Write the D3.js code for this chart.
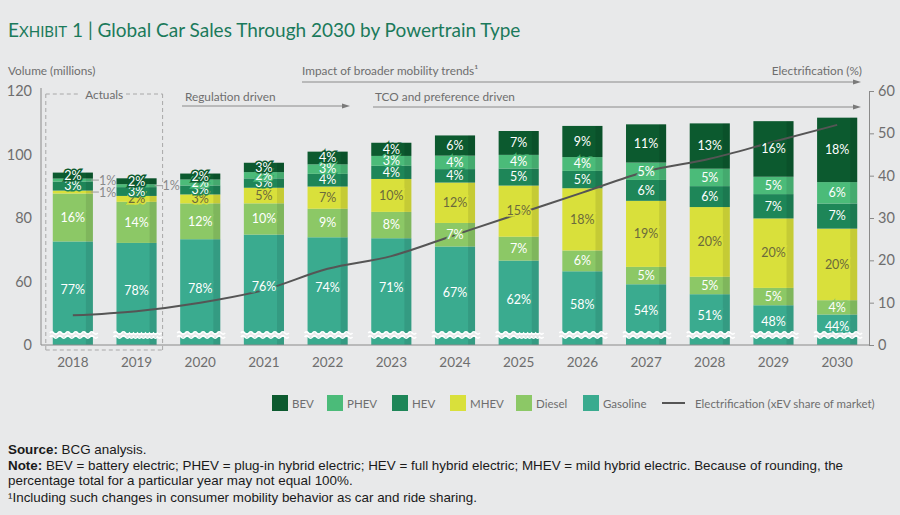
<!DOCTYPE html>
<html><head><meta charset="utf-8">
<script src="https://cdn.jsdelivr.net/npm/d3@7"></script>
<style>
html,body{margin:0;padding:0;background:#e8e9ea;}
svg{display:block;font-family:Lato,"Open Sans",sans-serif;}
</style></head><body>
<svg id="c" width="900" height="515"></svg>
<script>
const years = ["2018","2019","2020","2021","2022","2023","2024","2025","2026","2027","2028","2029","2030"];
const totals = [94.3, 92.5, 94, 97.4, 100.9, 103.7, 106, 107.4, 109, 109.5, 109.8, 110.5, 111.6];
const series = ["Gasoline","Diesel","MHEV","HEV","PHEV","BEV"];
const gasoline = [77,78,78,76,74,71,67,62,58,54,51,48,44];
const diesel   = [16,14,12,10,9,8,7,7,6,5,5,5,4];
const mhev     = [1,2,3,5,7,10,12,15,18,19,20,20,20];
const hev      = [3,3,3,3,4,4,4,5,5,6,6,7,7];
const phev     = [1,1,2,2,3,3,4,4,4,5,5,5,6];
const bev      = [2,2,2,3,4,4,6,7,9,11,13,16,18];
const electrification = [7,8,10,13,18,21,26,31,36,41,44,48,52];
const leftTicks = [0,60,80,100,120];
const rightTicks = [0,10,20,30,40,50,60];
const colors = {BEV:"#0c5a2f",PHEV:"#4bbb79",HEV:"#1e8658",MHEV:"#d9e03b",Diesel:"#8cc866",Gasoline:"#3aab8f"};
const legendOrder = ["BEV","PHEV","HEV","MHEV","Diesel","Gasoline"];
const pctBy = {Gasoline:gasoline,Diesel:diesel,MHEV:mhev,HEV:hev,PHEV:phev,BEV:bev};

const svg = d3.select("#c");
const bg = "#e8e9ea";
const gray = "#6e6e6e";
const FONT = "Lato, 'Open Sans', sans-serif";

// Title
const title = svg.append("text").attr("x",8).attr("y",37).attr("fill","#1b7a5b").attr("font-size",19);
title.append("tspan").text("E");
title.append("tspan").attr("font-size",15).text("XHIBIT");
title.append("tspan").text(" 1 | Global Car Sales Through 2030 by Powertrain Type");

const x = d3.scaleBand().domain(years).range([41,869]).paddingInner(0.37).paddingOuter(0.185);
const y = d3.scaleLinear().domain([40,120]).range([345,91]).clamp(true);
const yR = d3.scaleLinear().domain([0,60]).range([345,91]);

// Annotations
const fs = 11.8;
svg.append("text").attr("x",8).attr("y",75).attr("font-size",fs).attr("fill",gray).text("Volume (millions)");
svg.append("text").attr("x",862).attr("y",75).attr("text-anchor","end").attr("font-size",fs).attr("fill",gray).text("Electrification (%)");
svg.append("text").attr("x",302).attr("y",75).attr("font-size",fs).attr("fill",gray).text("Impact of broader mobility trends¹");
svg.append("text").attr("x",185).attr("y",101).attr("font-size",fs).attr("fill",gray).text("Regulation driven");
svg.append("text").attr("x",375).attr("y",101).attr("font-size",fs).attr("fill",gray).text("TCO and preference driven");
function arrow(x1,x2,yy){
  svg.append("line").attr("x1",x1).attr("x2",x2-5).attr("y1",yy).attr("y2",yy).attr("stroke","#8a8a8a").attr("stroke-width",1);
  svg.append("path").attr("d",`M${x2},${yy} L${x2-8},${yy-2.5} L${x2-8},${yy+2.5} Z`).attr("fill","#7a7a7a");
}
arrow(302,861,82);
arrow(182,350,106);
arrow(373,861,107);

// Actuals box
const bx0 = x("2018") - 7, bx1 = x("2019") + x.bandwidth() + 6;
const by0 = 94, by1 = 350;
const dash = {stroke:"#a8a8a8","stroke-dasharray":"4,3","stroke-width":1,fill:"none"};
function dl(x1,y1,x2,y2){const l=svg.append("line").attr("x1",x1).attr("y1",y1).attr("x2",x2).attr("y2",y2);Object.entries(dash).forEach(([k,v])=>l.attr(k,v));}
dl(bx0,by0,78,by0); dl(126,by0,bx1,by0); dl(bx0,by0,bx0,by1); dl(bx1,by0,bx1,by1); dl(bx0,by1,bx1,by1);
svg.append("text").attr("x",(bx0+bx1)/2).attr("y",99).attr("text-anchor","middle").attr("font-size",fs).attr("fill",gray).text("Actuals");

// Bars
const gBars = svg.append("g");
const segs = [];
years.forEach((yr,i)=>{
  const sum = series.reduce((s,k)=>s+pctBy[k][i],0);
  let cum = 0;
  series.forEach(k=>{
    const v = pctBy[k][i]/sum*totals[i];
    segs.push({year:yr,key:k,pct:pctBy[k][i],y0:cum,y1:cum+v,i});
    cum += v;
  });
});
const bw = x.bandwidth();
gBars.selectAll("rect.seg").data(segs).join("rect").attr("class","seg")
  .attr("x",d=>x(d.year)).attr("width",bw)
  .attr("y",d=>y(d.y1)).attr("height",d=>y(d.y0)-y(d.y1))
  .attr("fill",d=>colors[d.key]);
gBars.selectAll("rect.shade").data(segs).join("rect").attr("class","shade")
  .attr("x",d=>x(d.year)+bw-7).attr("width",7)
  .attr("y",d=>y(d.y1)).attr("height",d=>y(d.y0)-y(d.y1))
  .attr("fill","#000").attr("opacity",0.09);

// Squiggles
function wave(x0,x1,yy){let p=`M${x0},${yy}`;for(let xx=x0;xx<x1;xx+=4){p+=` Q${xx+2},${yy+((xx-x0)/4%2===0?-2.2:2.2)} ${xx+4},${yy}`;}return p;}
years.forEach(yr=>{
  const x0 = x(yr)-3, x1 = x(yr)+bw+3;
  svg.append("rect").attr("x",x0).attr("y",333).attr("width",x1-x0).attr("height",4).attr("fill",bg);
  svg.append("path").attr("d",wave(x0,x1,333)).attr("fill","none").attr("stroke","#fff").attr("stroke-width",1.6);
  svg.append("path").attr("d",wave(x0,x1,337)).attr("fill","none").attr("stroke","#fff").attr("stroke-width",1.6);
});

// Axes
const axL = svg.append("g").attr("transform","translate(41,0)")
  .call(d3.axisLeft(y).tickValues(leftTicks).tickSize(0).tickPadding(9).tickFormat(d=>d));
axL.select(".domain").remove();
axL.selectAll("text").attr("font-size",14.5).attr("fill",gray).attr("font-family",FONT);
svg.append("line").attr("x1",41).attr("x2",41).attr("y1",88).attr("y2",345).attr("stroke","#8a8a8a");
svg.append("line").attr("x1",41).attr("x2",869).attr("y1",345).attr("y2",345).attr("stroke","#8a8a8a");
const axR = svg.append("g").attr("transform","translate(869,0)")
  .call(d3.axisRight(yR).tickValues(rightTicks).tickSize(5).tickSizeOuter(0).tickPadding(4));
axR.select(".domain").attr("stroke","#8a8a8a");
axR.selectAll("line").attr("stroke","#8a8a8a");
axR.selectAll("text").attr("font-size",14.5).attr("fill",gray).attr("font-family",FONT);
const axB = svg.append("g").attr("transform","translate(0,345)")
  .call(d3.axisBottom(x).tickSize(0).tickPadding(12));
axB.select(".domain").remove();
axB.selectAll("text").attr("font-size",13.5).attr("fill",gray).attr("font-family",FONT);

// Electrification line
const line = d3.line().x((d,i)=>x(years[i])+bw/2).y(d=>yR(d)).curve(d3.curveMonotoneX);
svg.append("path").datum(electrification).attr("d",line).attr("fill","none").attr("stroke","#555").attr("stroke-width",2);

// Labels
const gL = svg.append("g").attr("font-size",12.5).attr("text-anchor","middle");
segs.forEach(d=>{
  const top = y(d.y1), bot = d.key==="Gasoline" ? 338 : y(d.y0);
  const cy = (top+bot)/2;
  const cx = x(d.year)+bw/2;
  if(d.pct<=1){
    const xr = x(d.year)+bw;
    svg.append("line").attr("x1",xr-2).attr("x2",xr+6).attr("y1",cy).attr("y2",cy).attr("stroke","#9a9a9a").attr("stroke-width",1);
    svg.append("text").attr("x",xr+6).attr("y",cy+4.5).attr("font-size",12.5).attr("fill","#8a8a8a").text(d.pct+"%");
    return;
  }
  gL.append("text").attr("x",cx).attr("y",cy+4.3)
    .attr("fill",d.key==="MHEV"?"#6b6a3c":"#fff")
    .attr("stroke",colors[d.key]).attr("stroke-width",3).attr("paint-order","stroke")
    .text(d.pct+"%");
});

// Legend
const legX = [272,327,392,450,516,583];
const lg = svg.append("g");
const lfs = 11.5;
legendOrder.forEach((k,i)=>{
  lg.append("rect").attr("x",legX[i]).attr("y",395).attr("width",16).attr("height",16).attr("fill",colors[k]);
  lg.append("text").attr("x",legX[i]+20).attr("y",407.5).attr("font-size",lfs).attr("fill",gray).text(k);
});
lg.append("line").attr("x1",662).attr("x2",685).attr("y1",403).attr("y2",403).attr("stroke","#555").attr("stroke-width",2);
lg.append("text").attr("x",695).attr("y",407.5).attr("font-size",lfs).attr("fill",gray).text("Electrification (xEV share of market)");

// Footnotes
const fn = svg.append("g").attr("font-family","'Liberation Sans Narrow','Arial Narrow',sans-serif").attr("font-size",13.4).attr("fill","#1a1a1a");
const t1 = fn.append("text").attr("x",8).attr("y",454);
t1.append("tspan").attr("font-weight","bold").text("Source:");
t1.append("tspan").text(" BCG analysis.");
const t2 = fn.append("text").attr("x",8).attr("y",470);
t2.append("tspan").attr("font-weight","bold").text("Note:");
t2.append("tspan").text(" BEV = battery electric; PHEV = plug-in hybrid electric; HEV = full hybrid electric; MHEV = mild hybrid electric. Because of rounding, the");
fn.append("text").attr("x",8).attr("y",485).text("percentage total for a particular year may not equal 100%.");
fn.append("text").attr("x",8).attr("y",502).text("¹Including such changes in consumer mobility behavior as car and ride sharing.");
</script>
</body></html>
